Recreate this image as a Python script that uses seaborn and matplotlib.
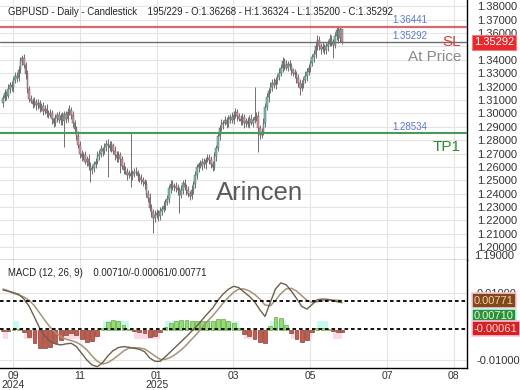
import numpy as np
import matplotlib
matplotlib.use("Agg")
import matplotlib.pyplot as plt
import seaborn as sns
from matplotlib.transforms import blended_transform_factory as btf

sns.set_theme(style="white")
plt.rcParams['font.family'] = ['Liberation Sans', 'DejaVu Sans']

# ---------------- data ----------------
first_open = 1.3080
closes = [
    1.3114, 1.3150, 1.3132, 1.3185, 1.3210, 1.3195, 1.3250, 1.3280, 1.3265, 1.3320,
    1.3390, 1.3410, 1.3360, 1.3290, 1.3180, 1.3110, 1.3095, 1.3070, 1.3085, 1.3060,
    1.3075, 1.3040, 1.3055, 1.3020, 1.3035, 1.3005, 1.2990, 1.3000, 1.2955, 1.2930,
    1.2965, 1.2985, 1.2950, 1.2980, 1.2940, 1.2995, 1.2960, 1.3010, 1.3025, 1.2985,
    1.2930, 1.2880, 1.2830, 1.2760, 1.2700, 1.2675, 1.2690, 1.2640, 1.2660, 1.2610,
    1.2575, 1.2590, 1.2625, 1.2640, 1.2680, 1.2700, 1.2730, 1.2715, 1.2750, 1.2770,
    1.2765, 1.2740, 1.2760, 1.2720, 1.2690, 1.2665, 1.2690, 1.2660, 1.2610, 1.2580,
    1.2565, 1.2540, 1.2555, 1.2530, 1.2550, 1.2565, 1.2560, 1.2530, 1.2515, 1.2500,
    1.2490, 1.2470, 1.2400, 1.2370, 1.2290, 1.2260, 1.2220, 1.2240, 1.2255, 1.2230,
    1.2270, 1.2285, 1.2310, 1.2340, 1.2360, 1.2440, 1.2470, 1.2450, 1.2460, 1.2440,
    1.2425, 1.2390, 1.2430, 1.2480, 1.2450, 1.2425, 1.2400, 1.2380, 1.2430, 1.2470,
    1.2540, 1.2600, 1.2620, 1.2610, 1.2640, 1.2620, 1.2655, 1.2670, 1.2650, 1.2620,
    1.2600, 1.2680, 1.2740, 1.2830, 1.2890, 1.2920, 1.2930, 1.2950, 1.2920, 1.2960,
    1.2975, 1.2950, 1.2990, 1.3010, 1.2980, 1.2960, 1.2940, 1.2970, 1.2925, 1.2945,
    1.2920, 1.2960, 1.2930, 1.2950, 1.2970, 1.2980, 1.2890, 1.2840, 1.2860, 1.2930,
    1.3050, 1.3120, 1.3170, 1.3200, 1.3230, 1.3215, 1.3250, 1.3270, 1.3300, 1.3340,
    1.3390, 1.3360, 1.3340, 1.3370, 1.3350, 1.3320, 1.3300, 1.3290, 1.3260, 1.3230,
    1.3190, 1.3220, 1.3250, 1.3280, 1.3310, 1.3340, 1.3375, 1.3420, 1.3440, 1.3500,
    1.3545, 1.3500, 1.3480, 1.3495, 1.3470, 1.3500, 1.3520, 1.3555, 1.3530, 1.3510,
    1.3580, 1.3620, 1.3560, 1.36268, 1.35292,
]
up_wick_pips = [
    25, 30, 20, 35, 25, 30, 20, 25, 30, 35,
    30, 25, 35, 20, 30, 25, 30, 20, 35, 25,
    30, 25, 20, 30, 25, 35, 20, 30, 25, 20,
    30, 25, 35, 20, 30, 25, 20, 30, 35, 25,
    30, 20, 25, 35, 30, 25, 20, 30, 25, 35,
    30, 25, 20, 30, 35, 25, 30, 20, 25, 30,
    40, 25, 30, 20, 35, 25, 30, 20, 25, 30,
    25, 30, 20, 305, 25, 30, 35, 20, 25, 30,
    25, 20, 30, 25, 35, 30, 25, 40, 30, 25,
    30, 25, 35, 20, 30, 25, 35, 30, 20, 25,
    30, 25, 35, 20, 30, 25, 30, 20, 35, 25,
    30, 25, 20, 35, 25, 30, 20, 30, 25, 35,
    25, 30, 20, 30, 25, 35, 20, 30, 25, 30,
    20, 35, 25, 30, 20, 25, 30, 35, 25, 20,
    30, 25, 35, 20, 226, 30, 40, 25, 30, 35,
    25, 30, 20, 35, 25, 30, 20, 25, 35, 30,
    30, 25, 35, 20, 30, 25, 20, 30, 25, 35,
    25, 30, 20, 35, 25, 30, 20, 25, 30, 35,
    39, 30, 25, 35, 20, 30, 25, 35, 30, 25,
    30, 31, 35, 20, 6,
]
dn_wick_pips = [
    30, 25, 35, 20, 30, 25, 35, 20, 30, 25,
    20, 30, 25, 35, 30, 25, 20, 30, 25, 35,
    25, 30, 20, 35, 25, 30, 25, 20, 35, 30,
    25, 30, 20, 35, 25, 190, 30, 25, 20, 30,
    35, 25, 30, 20, 35, 30, 25, 20, 30, 35,
    88, 30, 25, 35, 20, 30, 25, 35, 20, 30,
    240, 25, 30, 20, 35, 25, 30, 105, 25, 30,
    20, 35, 25, 80, 30, 25, 20, 35, 30, 25,
    30, 35, 25, 30, 20, 35, 113, 30, 25, 35,
    25, 30, 20, 35, 25, 30, 35, 20, 30, 25,
    35, 135, 25, 30, 20, 35, 25, 30, 20, 35,
    25, 30, 35, 20, 30, 25, 35, 20, 30, 25,
    30, 25, 35, 20, 30, 25, 35, 20, 30, 25,
    35, 20, 30, 25, 35, 20, 30, 25, 35, 30,
    25, 30, 20, 35, 25, 30, 179, 30, 25, 20,
    30, 25, 35, 20, 30, 25, 35, 30, 20, 25,
    30, 35, 20, 25, 30, 35, 20, 25, 30, 35,
    53, 25, 30, 20, 35, 25, 30, 20, 35, 25,
    30, 25, 35, 20, 30, 25, 35, 20, 30, 97,
    25, 30, 35, 25, 9,
]
macd_idx = list(range(0, 193, 3)) + [194]
macd_vals = [
    0.0109, 0.0105, 0.0101, 0.0096, 0.0082, 0.0060, 0.0028, -0.0005, -0.0028, -0.0045,
    -0.0052, -0.0055, -0.0052, -0.0050, -0.0060, -0.0080, -0.0100, -0.0115, -0.0120, -0.0108,
    -0.0088, -0.0072, -0.0063, -0.0060, -0.0062, -0.0065, -0.0068, -0.0075, -0.0094, -0.0104,
    -0.0104, -0.0090, -0.0075, -0.0060, -0.0045, -0.0030, -0.0014, 0.0002, 0.0020, 0.0038,
    0.0055, 0.0078, 0.0097, 0.0111, 0.0120, 0.0116, 0.0103, 0.0090, 0.0074, 0.0050,
    0.0030, 0.0072, 0.0112, 0.0130, 0.0125, 0.0106, 0.0084, 0.0060, 0.0052, 0.0066,
    0.0080, 0.0082, 0.0081, 0.0077, 0.0073, 0.00710,
]
signal_vals = [
    0.0112, 0.0107, 0.0099, 0.0094, 0.0088, 0.0078, 0.0062, 0.0040, 0.0018, -0.0002,
    -0.0018, -0.0030, -0.0038, -0.0042, -0.0047, -0.0056, -0.0070, -0.0088, -0.0104, -0.0112,
    -0.0108, -0.0098, -0.0086, -0.0073, -0.0065, -0.0063, -0.0064, -0.0067, -0.0077, -0.0088,
    -0.0098, -0.0098, -0.0092, -0.0082, -0.0070, -0.0055, -0.0038, -0.0022, -0.0003, 0.0015,
    0.0032, 0.0050, 0.0070, 0.0087, 0.0102, 0.0112, 0.0112, 0.0106, 0.0096, 0.0082,
    0.0064, 0.0062, 0.0078, 0.0098, 0.0112, 0.0114, 0.0106, 0.0092, 0.0078, 0.0072,
    0.0074, 0.0077, 0.0079, 0.0079, 0.0078, 0.00771,
]
price_ticks = [1.20, 1.21, 1.22, 1.23, 1.24, 1.25, 1.26, 1.27, 1.28, 1.29,
               1.30, 1.31, 1.32, 1.33, 1.34, 1.35, 1.36, 1.37, 1.38]
bottom_tick = 1.19
month_pos = [5.7, 44, 88, 131.6, 175.7, 220, 258]
month_labels = ["09\n2024", "11", "01\n2025", "03", "05", "07", "08"]
sl_level, price_level, tp_level = 1.36441, 1.35292, 1.28534
macd_last, hist_last, signal_last = 0.00710, -0.00061, 0.00771
title = "GBPUSD - Daily - Candlestick    195/229 - O:1.36268 - H:1.36324 - L:1.35200 - C:1.35292"
macd_title = "MACD (12, 26, 9)    0.00710/-0.00061/0.00771"

# ---------------- derived ----------------
c = np.array(closes)
o = np.array([first_open] + closes[:-1])
h = np.maximum(o, c) + np.array(up_wick_pips) / 1e4
l = np.minimum(o, c) - np.array(dn_wick_pips) / 1e4
idx = np.arange(len(c))
mv = np.array(macd_vals)
sv = np.array(signal_vals)
hist = mv - sv
mi = np.array(macd_idx)

# ---------------- figure ----------------
fig = plt.figure(figsize=(5.2, 3.9), dpi=100)
fig.patch.set_facecolor("white")
ax = fig.add_axes([0, 130 / 390, 467 / 520, 260 / 390])
axh = fig.add_axes([0, 22 / 390, 467 / 520, 108 / 390], sharex=ax)

grid_c = "#e4e4e4"
txt_c = "#333333"

# price panel
ax.set_facecolor("white")
ax.set_xlim(-1.717, 265.6)
ax.set_ylim(1.1905, 1.3846)
ax.set_yticks(price_ticks)
ax.set_yticklabels(["" if abs(v - price_level) < 0.004 else f"{v:.5f}" for v in price_ticks])
ax.yaxis.tick_right()
ax.tick_params(axis="y", length=0, pad=7, labelsize=8, labelcolor=txt_c)
ax.set_xticks(month_pos)
ax.tick_params(axis="x", length=0, labelbottom=False)
ax.grid(True, color=grid_c, lw=0.8)
ax.set_axisbelow(True)
for s in ["left", "top"]:
    ax.spines[s].set_visible(False)
ax.spines["right"].set_color("black")
ax.spines["right"].set_linewidth(1.0)
ax.spines["bottom"].set_color("#444444")
ax.spines["bottom"].set_linewidth(1.0)

ax.vlines(idx, l, h, color="#5a5a5a", lw=0.6, zorder=2)
body = np.where(np.abs(c - o) < 0.0003, np.sign(c - o + 1e-9) * 0.0003, c - o)
up = c >= o
ax.bar(idx[up], body[up], bottom=o[up], width=0.85, color="#6fc4b0",
       edgecolor="#626262", lw=0.35, zorder=3)
ax.bar(idx[~up], body[~up], bottom=o[~up], width=0.85, color="#e38e99",
       edgecolor="#626262", lw=0.35, zorder=3)

ax.axhline(sl_level, color="#d46a6a", lw=1.6, zorder=4)
ax.axhline(price_level, color="#6e6e6e", lw=1.0, zorder=4)
ax.axhline(tp_level, color="#4a9a55", lw=1.5, zorder=4)

bt = btf(ax.transAxes, ax.transData)
lab_c = "#5b78c8"
ax.annotate("1.36441", xy=(392 / 467, sl_level), xycoords=bt, xytext=(0, 1.5),
            textcoords="offset points", fontsize=7, color=lab_c, va="bottom")
ax.annotate("1.35292", xy=(392 / 467, price_level), xycoords=bt, xytext=(0, 1),
            textcoords="offset points", fontsize=7, color=lab_c, va="bottom")
ax.annotate("1.28534", xy=(392 / 467, tp_level), xycoords=bt, xytext=(0, 1),
            textcoords="offset points", fontsize=7, color=lab_c, va="bottom")
ax.annotate("SL", xy=(461 / 467, price_level), xycoords=bt, xytext=(0, 0),
            textcoords="offset points", fontsize=11, color="#e03a3a", ha="right", va="center")
ax.annotate("At Price", xy=(461 / 467, price_level), xycoords=bt, xytext=(0, -10.5),
            textcoords="offset points", fontsize=11, color="#8a8a8a", ha="right", va="center")
ax.annotate("TP1", xy=(461 / 467, tp_level), xycoords=bt, xytext=(0, -10),
            textcoords="offset points", fontsize=11, color="#2e8b2e", ha="right", va="center")
ax.text(1 + 7 / 467, price_level, "1.35292", transform=bt, fontsize=8, color="white",
        ha="left", va="center", zorder=10, clip_on=False,
        bbox=dict(boxstyle="square,pad=0.2", fc="#e8282b", ec="#f08080", lw=0.8))
ax.text(1 + 7 / 467, bottom_tick, "1.19000", transform=bt, fontsize=8, color=txt_c,
        ha="left", va="bottom", clip_on=False)
ax.text(8 / 467, 1 - 12 / 260, title, transform=ax.transAxes, fontsize=6.9,
        color="#222222", ha="left", va="center")
ax.text(260 / 467, (260 - 193) / 260, "Arincen", transform=ax.transAxes, fontsize=18.5,
        color="#5a5a5a", ha="center", va="center", zorder=1)

# MACD panel: histogram axis (back) + lines axis (front)
axh.set_ylim(-38 / 3900, 70 / 3900)
axh.set_yticks([])
axh.tick_params(axis="x", length=0, pad=2, labelsize=7.5, labelcolor=txt_c)
axh.set_xticks(month_pos)
axh.set_xticklabels(month_labels)
for t in axh.get_xticklabels():
    t.set_linespacing(0.85)
axh.grid(True, axis="x", color=grid_c, lw=0.8)
axh.set_axisbelow(True)
for s in ["left", "top", "right"]:
    axh.spines[s].set_visible(False)
axh.spines["bottom"].set_color("black")
axh.spines["bottom"].set_linewidth(1.0)

band = 0.0022
axh.fill_between(mi, 0, band, where=hist > 0, color="#c9f7f1", step="mid", lw=0, zorder=1)
axh.fill_between(mi, 0, -band, where=hist < 0, color="#ffd8e6", step="mid", lw=0, zorder=1)
axh.bar(mi[hist >= 0], hist[hist >= 0], width=2.2, color="#96dc70",
        edgecolor="#6aa84a", lw=0.5, zorder=2)
axh.bar(mi[hist < 0], hist[hist < 0], width=2.2, color="#c65a4c",
        edgecolor="#7e4434", lw=0.5, zorder=2)

axl = axh.twinx()
axl.set_ylim(-0.01239, 0.01985)
axl.set_yticks([-0.01, 0.01])
axl.yaxis.set_major_formatter(matplotlib.ticker.FormatStrFormatter("%.5f"))
axl.tick_params(axis="y", length=0, pad=7, labelsize=8, labelcolor=txt_c)
axl.grid(True, axis="y", color=grid_c, lw=0.8)
for s in ["left", "top", "bottom"]:
    axl.spines[s].set_visible(False)
axl.spines["right"].set_color("black")
axl.spines["right"].set_linewidth(1.0)

sns.lineplot(x=macd_idx, y=signal_vals, ax=axl, color="#a69478", lw=1.1)
sns.lineplot(x=macd_idx, y=macd_vals, ax=axl, color="#6d5f4a", lw=1.0)
axl.axhline(signal_last, color="black", ls=(0, (2, 1.6)), lw=1.3)
axl.axhline(hist_last, color="black", ls=(0, (2, 1.6)), lw=1.3)
axl.set_xlabel("")
axl.set_ylabel("")

bl = btf(axl.transAxes, axl.transData)
axl.text(1 + 7 / 467, signal_last, "0.00771", transform=bl, fontsize=8, color="#ffc9a6",
         ha="left", va="center", clip_on=False,
         bbox=dict(boxstyle="square,pad=0.2", fc="#7d4a1c", ec="#ffc4d6", lw=1.2))
axl.annotate("0.00710", xy=(1 + 7 / 467, macd_last), xycoords=bl, xytext=(0, -9.5),
             textcoords="offset points", fontsize=8, color="#d6ffd0", ha="left", va="center",
             annotation_clip=False,
             bbox=dict(boxstyle="square,pad=0.2", fc="#2f8e3e", ec="#bff5ee", lw=1.2))
axl.text(1 + 7 / 467, hist_last, "-0.00061", transform=bl, fontsize=8, color="#ffd3d3",
         ha="left", va="center", clip_on=False,
         bbox=dict(boxstyle="square,pad=0.2", fc="#d42222", ec="#ffc4e0", lw=1.2))
axl.text(8 / 467, (368 - 273) / 108, macd_title, transform=axl.transAxes, fontsize=6.9,
         color="#222222", ha="left", va="center")

fig.savefig("out.png", dpi=100, facecolor="white")
